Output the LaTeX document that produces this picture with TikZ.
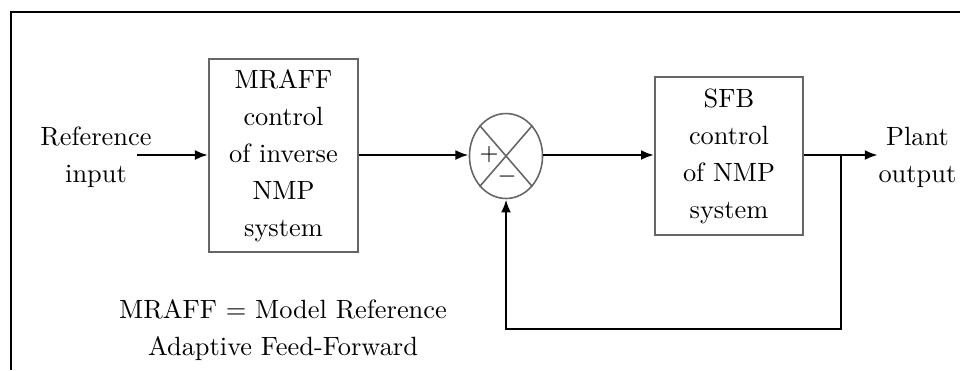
\documentclass[tikz,border=0pt]{standalone}
\usetikzlibrary{arrows.meta,positioning,shapes.geometric}
\definecolor{boxline}{gray}{0.4}

\begin{document}
\begin{tikzpicture}[x=0.379pt,y=-0.379pt,
  txt/.style={align=center,inner sep=0pt,font=\fontsize{10}{14}\selectfont},
  block/.style={txt,draw=boxline,line width=0.6pt},
  sgn/.style={inner sep=0pt,font=\fontsize{9}{11}\selectfont},
  wire/.style={line width=1pt},
  sig/.style={wire,-{Latex[length=5pt,width=3.8pt]}}]
\useasboundingbox (0,0) rectangle (960,370);
% frame
\draw[line width=0.8pt] (11,370) -- (11,12) -- (960,12);
% blocks
\node[txt] (ref) at (96,157){Reference\\input};
\coordinate (inp) at (137,155);
\node[block,minimum width=56.5pt,minimum height=73.1pt] (ff) at (283.5,155.5){MRAFF\\control\\of inverse\\NMP\\system};
\node[draw=boxline,line width=0.6pt,ellipse,minimum width=27.7pt,minimum height=32.2pt,inner sep=0pt] (sum) at (506,156){};
\draw[boxline,line width=0.6pt] (sum.north west) -- (sum.south east) (sum.north east) -- (sum.south west);
\node[sgn] (plus) at (489,155){$+$};
\node[sgn] (minus) at (507,177){$-$};
\node[block,minimum width=56.1pt,minimum height=59.9pt] (fb) at (729,156){SFB\\control\\of NMP\\system};
\node[txt,anchor=west] (out) at (878,157){Plant\\output};
\coordinate (br) at (841,155);
\coordinate (bl) at (841,329);
\coordinate (br2) at (506,329);
% signals
\draw[sig] (inp) -- (ff.west|-inp);
\draw[sig] (ff.east|-inp) -- (sum.west|-inp);
\draw[sig] (sum.east|-inp) -- (fb.west|-inp);
\draw[sig] (fb.east|-inp) -- (out.west|-inp);
\draw[sig] (br) -- (bl) -- (br2) -- (sum.south);
% note
\node[txt] (note) at (283,330){MRAFF = Model Reference\\Adaptive Feed-Forward};
\end{tikzpicture}
\end{document}
